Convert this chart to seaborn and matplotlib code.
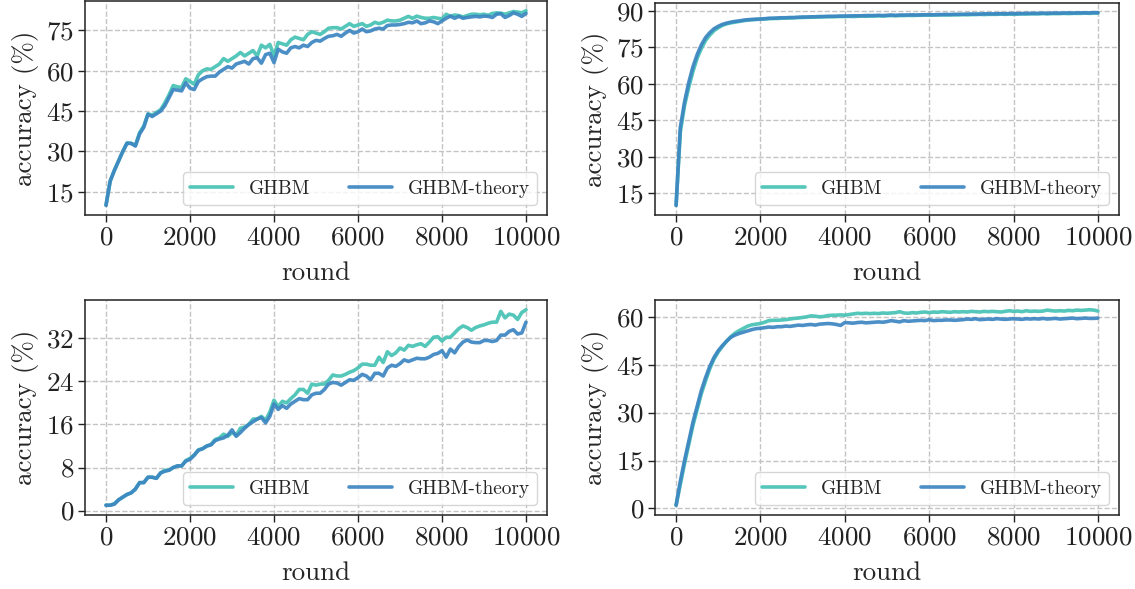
import numpy as np
import pandas as pd
import seaborn as sns
import matplotlib
matplotlib.use("Agg")
import matplotlib.pyplot as plt

rounds = list(range(0, 10001, 100))
methods = ["GHBM", "GHBM-theory"]
colors = {"GHBM": "#46C2B4", "GHBM-theory": "#3D86C2"}

# panel (0,0)
tl_ghbm = [10, 19, 23, 26.5, 30, 33.2, 33, 32.3, 37, 39.5,
           44, 43.5, 44.5, 45.5, 48, 51, 54.5, 54, 53.8, 57,
           56, 55, 58.5, 60, 60.7, 60.5, 61.5, 62.5, 64.5, 63.5,
           64.5, 65.5, 66.8, 65.5, 66.5, 67.5, 65.5, 69.5, 68.5, 69.8,
           65.5, 70.5, 70, 69.5, 71.5, 72.5, 72, 71.5, 73.5, 74.5,
           74, 73.5, 74.5, 75.8, 76, 76, 75.5, 76.5, 77.5, 76.5,
           77, 77.5, 76.5, 77, 78, 77.5, 78, 78.8, 78.5, 78.5,
           78.8, 79.5, 80.2, 79.5, 80.3, 79.8, 79.5, 79.5, 79.8, 79.5,
           79.3, 81, 80.2, 80.7, 80.5, 80, 80.5, 81, 81, 80.8,
           81, 80.6, 81.3, 81.5, 81.4, 81, 81.5, 82, 81.8, 81.5, 82.3]
tl_theory = [10, 19, 23, 26.5, 30, 33, 33, 32, 36.5, 39,
             43.8, 43, 44, 45, 47, 50, 53, 52.8, 52.5, 55.5,
             53.5, 53, 56, 57, 57.8, 58, 58, 59.5, 60.5, 61.5,
             61, 62.5, 63, 63.5, 62.5, 64.5, 64.8, 62.8, 66, 66.5,
             63, 68, 67, 66.5, 68.5, 69, 68.5, 69.5, 69, 70.5,
             71.3, 71, 72, 72.8, 73, 73.5, 72.8, 74, 75, 74,
             74.5, 75.5, 74.5, 74.8, 75.5, 75.8, 75.5, 76.8, 77, 77,
             77.2, 77.5, 78, 77.8, 78.5, 77.5, 77.8, 78.5, 78.2, 77.5,
             78.5, 79.5, 80.3, 79.5, 80.2, 79.5, 79.8, 80, 80.2, 80,
             80.3, 80.2, 79.8, 81, 81.2, 79.8, 80.5, 81.5, 81, 80.2, 81.3]

# panel (0,1)
tr_ghbm = [10, 40, 51, 58.5, 65, 70.5, 74.5, 77.8, 80, 81.8,
           83, 84, 84.6, 85, 85.3, 85.6, 85.9, 86.1, 86.3, 86.4,
           86.5, 86.6, 86.7, 86.8, 86.8, 86.9, 87.0, 87.0, 87.1, 87.2,
           87.2, 87.3, 87.3, 87.4, 87.4, 87.5, 87.5, 87.5, 87.6, 87.6,
           87.6, 87.7, 87.6, 87.7, 87.8, 87.7, 87.8, 87.8, 87.9, 87.8,
           87.9, 88.0, 87.9, 88.0, 88.0, 88.1, 88.0, 88.1, 88.1, 88.2,
           88.1, 88.2, 88.2, 88.3, 88.2, 88.3, 88.3, 88.3, 88.4, 88.3,
           88.4, 88.4, 88.5, 88.4, 88.5, 88.5, 88.5, 88.6, 88.5, 88.6,
           88.5, 88.6, 88.7, 88.6, 88.7, 88.7, 88.7, 88.8, 88.7, 88.8,
           88.8, 88.8, 88.9, 88.8, 88.9, 88.9, 88.9, 89.0, 88.9, 89.0, 89.0]
tr_theory = [10, 42, 52.5, 60.5, 67, 72, 76, 79, 81, 82.6,
             83.6, 84.4, 84.9, 85.3, 85.6, 85.8, 86.1, 86.3, 86.4, 86.5,
             86.6, 86.7, 86.9, 86.9, 87.0, 87.1, 87.1, 87.2, 87.2, 87.3,
             87.4, 87.4, 87.5, 87.5, 87.6, 87.6, 87.7, 87.7, 87.7, 87.8,
             87.8, 87.8, 87.9, 87.9, 87.9, 88.0, 88.0, 88.0, 88.1, 88.0,
             88.1, 88.2, 88.1, 88.2, 88.2, 88.2, 88.3, 88.2, 88.3, 88.3,
             88.4, 88.3, 88.4, 88.4, 88.5, 88.4, 88.5, 88.5, 88.5, 88.6,
             88.6, 88.6, 88.6, 88.7, 88.7, 88.7, 88.7, 88.8, 88.7, 88.8,
             88.8, 88.8, 88.8, 88.9, 88.9, 88.9, 88.9, 89.0, 88.9, 89.0,
             89.0, 89.0, 89.0, 89.1, 89.0, 89.1, 89.1, 89.1, 89.1, 89.2, 89.2]

# panel (1,0)
bl_ghbm = [1, 1, 1.3, 2, 2.5, 3, 3.3, 4, 5.2, 5.2,
           6.2, 6.2, 6, 7, 7.5, 7.5, 8, 8.3, 8.3, 9.3,
           9.7, 10.3, 11.3, 11.5, 12, 12.3, 13.2, 13.5, 14.2, 13.8,
           14.5, 14, 15.3, 15.5, 16, 17, 17, 17.5, 16.8, 18.3,
           20.5, 19.3, 20.3, 20, 20.8, 21.5, 22.5, 22.5, 21.8, 23.5,
           23.3, 23.5, 23.5, 24.2, 25.2, 25, 25, 25.3, 25.7, 26,
           26.5, 27.2, 27.2, 27, 27, 28.5, 27.5, 29.5, 28.8, 29.3,
           30.2, 29.8, 30.7, 30.5, 30.8, 31, 30.5, 31.3, 32.2, 32.3,
           31.5, 32.2, 32.2, 33, 33.8, 34.3, 34, 33.5, 34, 34.3,
           34.5, 34.8, 35, 35, 37, 35.8, 36.5, 36.3, 35.5, 36.8, 37.3]
bl_theory = [1, 1, 1.2, 2, 2.5, 3, 3.3, 4, 5.2, 5.2,
             6.2, 6.2, 6, 7, 7.3, 7.5, 8, 8.3, 8.3, 9.2,
             9.5, 10.3, 11.2, 11.5, 12, 12.2, 13, 13.3, 13.5, 14,
             15, 13.8, 14.5, 15.3, 16, 16.5, 17, 17.3, 16.3, 17.5,
             19.8, 18.8, 19.5, 19, 19.8, 20.3, 20.8, 20.6, 20.6, 21.5,
             21.8, 21.8, 22.5, 23.5, 23.8, 23.7, 23.3, 23.8, 24.3, 24.2,
             24.7, 25.3, 25, 24.3, 25.5, 25.5, 25, 26.5, 27, 26.8,
             27.3, 28, 27.7, 28, 28.3, 28.2, 28.2, 28.5, 29, 29.2,
             29.7, 28.5, 30, 29.3, 30.5, 31.3, 31.7, 31.3, 31.2, 31.2,
             31.6, 31.6, 31.4, 31.6, 32.6, 32.6, 33.3, 33.6, 32.8, 33, 35]

# panel (1,1)
br_ghbm = [1, 7.5, 14, 20, 26, 31, 36, 40, 43.8, 46.8,
           49, 50.8, 52.4, 53.8, 54.9, 55.7, 56.4, 57.1, 57.5, 57.7,
           57.9, 58.3, 58.8, 58.9, 58.9, 59.0, 59.1, 59.3, 59.5, 59.6,
           59.8, 60.0, 60.3, 60.2, 60.0, 60.1, 60.4, 60.5, 60.5, 60.6,
           60.5, 60.7, 60.9, 61.1, 61.0, 61.1, 61.0, 61.1, 61.0, 61.2,
           61.1, 61.2, 61.3, 61.6, 61.2, 61.1, 61.3, 61.2, 61.4, 61.5,
           61.3, 61.5, 61.4, 61.6, 61.5, 61.4, 61.6, 61.5, 61.6, 61.5,
           61.7, 61.6, 61.5, 61.7, 61.6, 61.7, 61.6, 61.5, 61.7, 61.9,
           61.7, 61.8, 61.6, 61.9, 61.7, 61.8, 61.7, 61.8, 62.1, 61.9,
           61.8, 61.9, 61.8, 62.0, 61.9, 62.1, 62.0, 62.1, 62.2, 62.1, 61.8]
br_theory = [1, 8.5, 15, 21, 27, 32, 37, 41, 44.5, 47.3,
             49.4, 51, 52.4, 53.6, 54.3, 54.8, 55.2, 55.6, 56.0, 56.3,
             56.4, 56.6, 56.8, 56.7, 56.9, 56.9, 57.1, 57.0, 57.2, 57.4,
             57.3, 57.5, 57.6, 57.4, 57.7, 57.8, 57.9, 57.8, 57.6, 57.3,
             58.2, 58.1, 58.0, 58.2, 58.3, 58.1, 58.2, 58.3, 58.4, 58.3,
             58.5, 58.8, 58.6, 58.4, 58.8, 58.6, 58.7, 58.8, 58.9, 58.8,
             59.1, 58.8, 58.9, 58.9, 59.0, 59.0, 58.9, 59.0, 59.1, 59.3,
             59.2, 59.4, 59.1, 59.2, 59.3, 59.2, 59.4, 59.3, 59.2, 59.3,
             59.4, 59.3, 59.2, 59.4, 59.3, 59.4, 59.3, 59.5, 59.3, 59.4,
             59.5, 59.3, 59.4, 59.5, 59.6, 59.4, 59.5, 59.6, 59.5, 59.5, 59.6]

panels = [
    (tl_ghbm, tl_theory, [15, 30, 45, 60, 75]),
    (tr_ghbm, tr_theory, [15, 30, 45, 60, 75, 90]),
    (bl_ghbm, bl_theory, [0, 8, 16, 24, 32]),
    (br_ghbm, br_theory, [0, 15, 30, 45, 60]),
]
xticks = [0, 2000, 4000, 6000, 8000, 10000]

sns.set_style("ticks")
plt.rcParams.update({
    "font.family": "serif",
    "font.serif": ["cmr10", "DejaVu Serif"],
    "mathtext.fontset": "cm",
    "axes.formatter.use_mathtext": True,
    "axes.unicode_minus": False,
    "axes.edgecolor": "#222222",
    "axes.linewidth": 1.1,
    "xtick.color": "#222222",
    "ytick.color": "#222222",
})

fig = plt.figure(figsize=(11.35, 5.89), dpi=100)
W, H = 1135, 589
boxes = [(85, 1, 547, 215), (655, 3, 1119, 215),
         (85, 300, 547, 515), (655, 300, 1119, 515)]

for (g, t, yt), (x0, y0, x1, y1) in zip(panels, boxes):
    ax = fig.add_axes([x0 / W, 1 - y1 / H, (x1 - x0) / W, (y1 - y0) / H])
    df = pd.DataFrame({
        "round": rounds * 2,
        "acc": g + t,
        "method": [methods[0]] * len(rounds) + [methods[1]] * len(rounds),
    })
    sns.lineplot(data=df, x="round", y="acc", hue="method", palette=colors,
                 linewidth=2.6, alpha=0.92, ax=ax)
    ax.grid(True, linestyle="--", color="#c4c4c4", linewidth=1.0)
    ax.set_axisbelow(True)
    ax.set_xticks(xticks)
    ax.set_yticks(yt)
    ax.tick_params(labelsize=19.5, length=5, width=1, pad=3)
    ax.set_xlabel("round", fontsize=19.5, labelpad=8)
    ax.set_ylabel("accuracy (%)", fontsize=19.5, labelpad=5)
    sns.move_legend(ax, "lower right", ncol=2, title=None, fontsize=14,
                    frameon=True, handlelength=2.2, columnspacing=2.0)
    leg = ax.get_legend()
    for h in leg.legend_handles:
        h.set_linewidth(2.6)

fig.savefig("out.png", dpi=100)
